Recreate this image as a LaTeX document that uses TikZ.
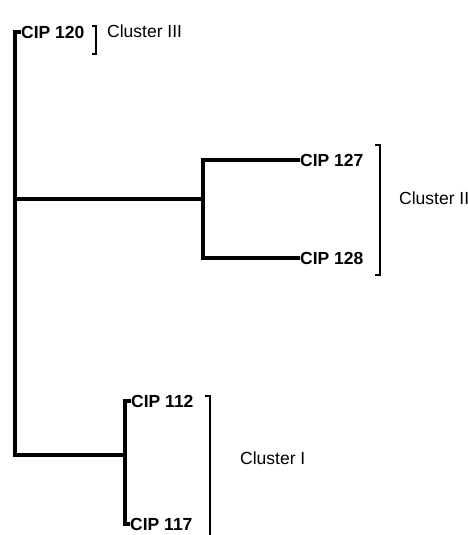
\documentclass[tikz,border=0pt]{standalone}
\usepackage{fontspec}
\setmainfont{Liberation Sans}
\usetikzlibrary{calc}

\begin{document}
\begin{tikzpicture}[x=1pt, y=-1pt,
    branch/.style={line width=3.2pt},
    bracket/.style={line width=1.5pt},
    leaf/.style={anchor=west, inner sep=0pt, font=\fontsize{17.5}{20}\selectfont\bfseries},
    clabel/.style={anchor=west, inner sep=0pt, font=\fontsize{17.5}{20}\selectfont}]
  \useasboundingbox (0,0) rectangle (468,535);
  % Leaves
  \node[leaf] (c120) at (21,32)  {CIP 120};
  \node[leaf] (c127) at (300,160) {CIP 127};
  \node[leaf] (c128) at (300,258) {CIP 128};
  \node[leaf] (c112) at (131,401) {CIP 112};
  \node[leaf] (c117) at (130,524) {CIP 117};
  % Internal nodes
  \coordinate (root) at (15,455);
  \coordinate (j2) at (15,199);
  \coordinate (n2) at (203,199);
  \coordinate (n1) at (125,455);
  % Tree
  \draw[branch] (c120.west) -| (root) -- (n1);
  \draw[branch] (j2) -- (n2);
  \draw[branch] (c127.west) -| (n2) |- (c128.west);
  \draw[branch] (c112.west) -| (n1) |- (c117.west);
  % Brackets
  \draw[bracket] (92,26) -- (96,26) -- (96,54) -- (92,54);
  \draw[bracket] (375,145) -- (380,145) -- (380,275) -- (375,275);
  \draw[bracket] (205,396) -- (210,396) -- (210,535);
  % Cluster labels
  \node[clabel] (k3) at (107,31)  {Cluster III};
  \node[clabel] (k2) at (399,198) {Cluster II};
  \node[clabel] (k1) at (240,458) {Cluster I};
\end{tikzpicture}
\end{document}
